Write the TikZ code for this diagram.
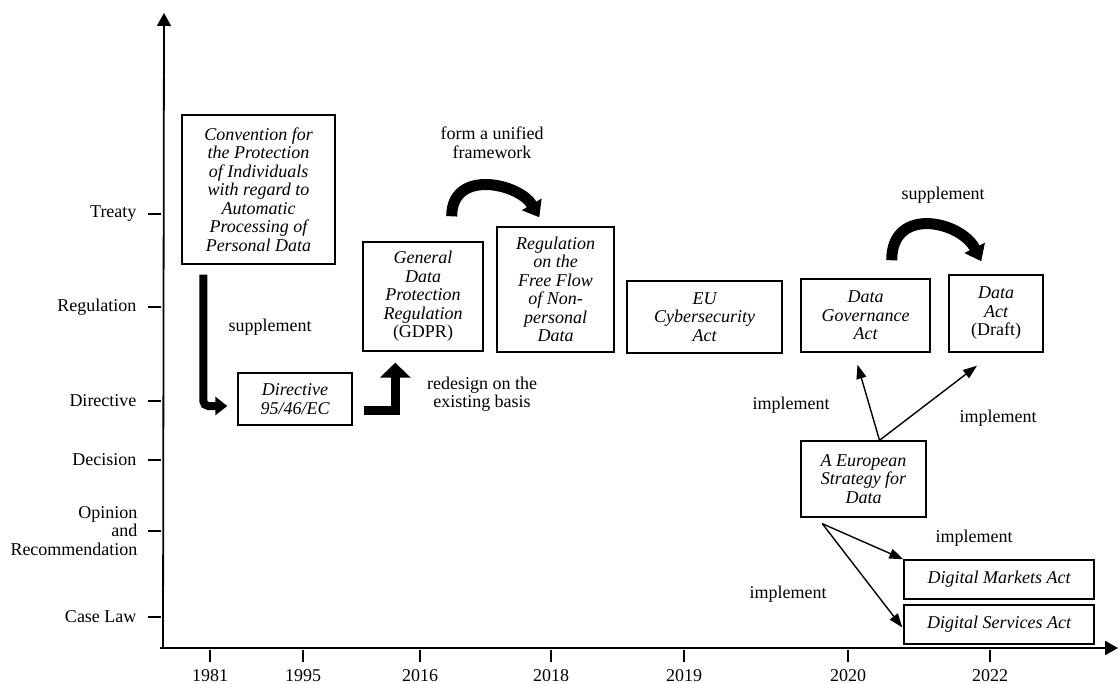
\documentclass[tikz,border=0pt]{standalone}
\usepackage{fontspec}
\setmainfont{Liberation Serif}
\usetikzlibrary{calc,arrows.meta}

\begin{document}
\begin{tikzpicture}[
    x=1pt,y=-1pt,
    font=\fontsize{18}{18.5}\selectfont,
    axis/.style={line width=1.8,-{Triangle[width=14,length=13]}},
    tick/.style={line width=1.4},
    law/.style={draw,line width=1.4,align=center,inner sep=0,font=\fontsize{18}{18.5}\selectfont\itshape},
    fatbend/.style={line width=9,-{Triangle[width=30,length=15]}},
    fatarc/.style={line width=11,-{Triangle[width=22,length=15]}},
    impl/.style={line width=1.4,-{Triangle[width=10,length=14]}}
    ]
\useasboundingbox (0,0) rectangle (1118,684);

% AXES
\coordinate (O) at (163,648);
\coordinate (ytop) at (164,13);
\coordinate (xend) at (1118,648);
\draw[axis] (160,648) -- (xend);
\draw[axis] (O) -- (ytop);

% LEVELS OF LAW
\foreach \y/\lab [count=\i] in {214/Treaty,307/Regulation,401/Directive,460/Decision,617/Case Law}{
    \draw[tick] (148,\y) -- (161,\y);
    \node[anchor=east] (lvl\i) at (140,\y) {\lab};
}
\draw[tick] (148,531) -- (161,531);
\node[anchor=east,align=right] (lvlop) at (141,531) {Opinion\\and\\Recommendation};

% YEARS
\foreach \x/\yr in {210/1981,303/1995,420/2016,551/2018,684/2019,848/2020,990/2022}{
    \draw[tick] (\x,650) -- (\x,662);
    \node (yr\yr) at (\x,676) {\yr};
}

% ACTS
\node[law,minimum width=153,minimum height=149] (conv) at (258.5,189.5)
    {Convention for\\the Protection\\of Individuals\\with regard to\\Automatic\\Processing of\\Personal Data};
\node[law,minimum width=114,minimum height=52] (dir) at (295,399) {Directive\\95/46/EC};
\node[law,minimum width=120,minimum height=109] (gdpr) at (423,296.5)
    {General\\Data\\Protection\\Regulation\\{\upshape(GDPR)}};
\node[law,minimum width=117,minimum height=125] (ffd) at (555.5,289.5)
    {Regulation\\on the\\Free Flow\\of Non-\\personal\\Data};
\node[law,minimum width=155,minimum height=72] (eucs) at (704.5,317) {EU\\Cybersecurity\\Act};
\node[law,minimum width=129,minimum height=73] (dga) at (865.5,315.5) {Data\\Governance\\Act};
\node[law,minimum width=94,minimum height=77] (dact) at (996,313.5) {Data\\Act\\{\upshape(Draft)}};
\node[law,minimum width=125,minimum height=76] (strat) at (863.5,479) {A European\\Strategy for\\Data};
\node[law,minimum width=190,minimum height=39] (dma) at (999,579.5) {Digital Markets Act};
\node[law,minimum width=190,minimum height=39] (dsa) at (999,624.5) {Digital Services Act};

% RELATIONS
\draw[fatbend,line width=8,-{Triangle[width=18,length=12]},rounded corners=5]
    ($(conv.south west)+(22,10)$) |- ($(dir.west)+(-10,7)$);
\node (lsup1) at (270,327) {supplement};

\draw[fatbend] ($(dir.east)+(11,11)$) -| ($(gdpr.south west)+(33,11)$);
\node[align=center] (lredes) at (482,394) {redesign on the\\existing basis};

\draw[fatarc] ($(gdpr.north east)+(-32,-25)$) .. controls +(0,-48) and +(-20,-34) .. ($(ffd.north west)+(43,-9)$);
\node[align=center] (lform) at (492,143) {form a unified\\framework};

\draw[fatarc] ($(dga.north east)+(-39,-18)$) .. controls +(0,-55) and +(-20,-40) .. ($(dact.north west)+(33,-13)$);
\node (lsup2) at (943,195) {supplement};

\coordinate (stop) at ($(strat.north)+(16,0)$);
\coordinate (sbot) at ($(strat.south west)+(22,6)$);
\draw[impl] (stop) -- ($(dga.south)+(-8,12)$);
\draw[impl] (stop) -- ($(dact.south)+(-19,13)$);
\draw[impl] (sbot) -- (dma.north west);
\draw[impl] (sbot) -- ($(dsa.west)+(-1,3)$);
\node (limp1) at (791,405) {implement};
\node (limp2) at (998,418) {implement};
\node (limp3) at (974,538) {implement};
\node (limp4) at (788,594) {implement};
\end{tikzpicture}
\end{document}
